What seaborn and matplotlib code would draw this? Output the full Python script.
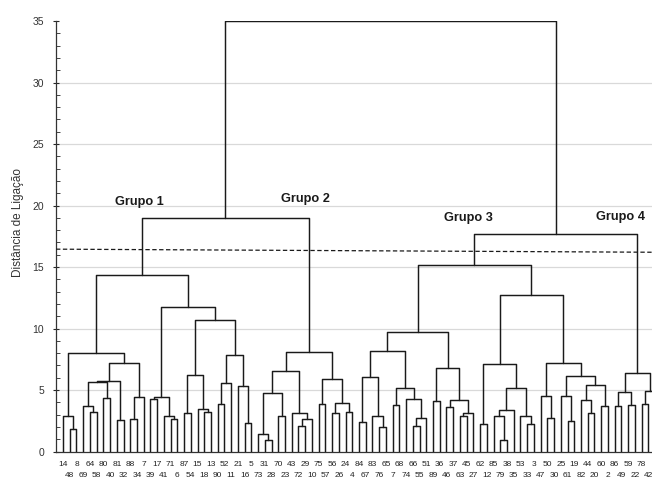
import numpy as np
import pandas as pd
import matplotlib
matplotlib.use("Agg")
import matplotlib.pyplot as plt
import matplotlib.transforms as mtransforms
import seaborn as sns

# ---------------- data ----------------
leaf_labels = ["14", "48", "8", "69", "64", "58", "80", "40", "81", "32", "88", "34", "7", "39",
               "17", "41", "71", "6", "87", "54", "15", "18", "13", "90", "52", "11", "21", "16",
               "5", "73", "31", "28", "70", "23", "43", "72", "29", "10", "75", "57", "56", "26",
               "24", "4", "84", "67", "83", "76", "65", "7", "68", "74", "66", "55", "51", "89",
               "36", "46", "37", "63", "45", "27", "62", "12", "85", "79", "38", "35", "53", "33",
               "3", "47", "50", "30", "25", "61", "19", "82", "44", "20", "60", "2", "86", "49",
               "59", "22", "78", "42", "1"]
n_leaves = len(leaf_labels)

# merges: ids < n_leaves are leaves, id n_leaves + i is the cluster made by merge i
merge_left = [1, 0, 4, 3, 6, 92, 8, 94, 10, 97, 96, 90,
              13, 16, 15, 101,
              18, 21, 20, 105, 23, 109, 27, 26, 110, 108, 104, 100,
              30, 29, 32, 118, 35, 121, 34, 120, 38, 40, 42, 126, 125, 124, 116,
              44, 47, 46, 132, 49, 52, 137, 51, 136, 135,
              55, 57, 59, 144, 143, 142, 141,
              62, 65, 64, 151, 69, 68, 152, 149,
              72, 71, 75, 74, 78, 77, 80, 162, 160, 158, 156, 148,
              82, 84, 169, 86, 172, 171, 168, 131]
merge_right = [2, 89, 5, 91, 7, 93, 9, 95, 11, 12, 98, 99,
               14, 17, 102, 103,
               19, 22, 106, 107, 24, 25, 28, 111, 112, 113, 114, 115,
               31, 117, 33, 119, 36, 37, 122, 123, 39, 41, 43, 127, 128, 129, 130,
               45, 48, 133, 134, 50, 53, 54, 138, 139, 140,
               56, 58, 60, 61, 145, 146, 147,
               63, 66, 150, 67, 70, 153, 154, 155,
               73, 157, 76, 159, 79, 161, 81, 163, 164, 165, 166, 167,
               83, 85, 170, 87, 88, 173, 174, 175]
merge_height = [1.84, 2.86, 3.21, 3.67, 4.35, 5.62, 2.59, 5.70, 2.67, 4.43, 7.17, 8.03,
                4.27, 2.67, 2.86, 4.46,
                3.13, 3.21, 3.48, 6.24, 3.90, 5.57, 2.32, 5.29, 7.86, 10.70, 11.78, 14.37,
                0.97, 1.43, 2.86, 4.75, 2.10, 2.65, 3.13, 6.55, 3.90, 3.13, 3.25, 3.92, 5.86, 8.10, 18.96,
                2.40, 2.00, 2.86, 6.05, 3.81, 2.10, 2.73, 4.27, 5.20, 8.20,
                4.08, 3.59, 2.86, 3.13, 4.21, 6.78, 9.70,
                2.24, 0.97, 2.86, 3.40, 2.24, 2.92, 5.16, 7.10,
                2.73, 4.48, 2.46, 4.54, 3.13, 4.21, 3.73, 5.43, 6.10, 7.17, 12.75, 15.13,
                3.73, 3.81, 4.81, 3.89, 4.89, 6.37, 17.67, 35.0]

group_names = ["Grupo 1", "Grupo 2", "Grupo 3", "Grupo 4"]
group_x = [11.4, 36.0, 60.2, 82.8]
group_y = [20.25, 20.55, 19.0, 19.1]
cut_height_left = 16.45
cut_height_right = 16.2

# ---------------- build segments ----------------
pos = {i: float(i) for i in range(n_leaves)}
hgt = {i: 0.0 for i in range(n_leaves)}
rows = []
for k, (a, b, h) in enumerate(zip(merge_left, merge_right, merge_height)):
    xa, xb = pos[a], pos[b]
    ya, yb = hgt[a], hgt[b]
    for j, (xx, yy) in enumerate([(xa, ya), (xa, h), (xb, h), (xb, yb)]):
        rows.append({"x": xx, "y": yy, "seg": k, "order": j})
    cid = n_leaves + k
    pos[cid] = (xa + xb) / 2.0
    hgt[cid] = h
df = pd.DataFrame(rows)

# ---------------- plot ----------------
sns.set_style("white")
plt.rcParams["font.family"] = ["Liberation Sans", "DejaVu Sans"]

fig = plt.figure(figsize=(6.52, 4.80), dpi=100)
ax = fig.add_axes([56 / 652, 1 - 451.5 / 480, 1 - 56 / 652, (451.5 - 21) / 480])

for yv in [5, 10, 15, 20, 25, 30]:
    ax.axhline(yv, color="#d9d9d9", lw=0.9, zorder=0)

sns.lineplot(data=df, x="x", y="y", units="seg", estimator=None, sort=False,
             color="#1a1a1a", lw=1.05, ax=ax, legend=False, zorder=3)

xlim = (-1.04, 87.55)
ax.plot(list(xlim), [cut_height_left, cut_height_right], color="#1a1a1a", lw=0.9,
        ls=(0, (3.5, 2.0)), zorder=4)

for name, gx, gy in zip(group_names, group_x, group_y):
    ax.text(gx, gy, name, ha="center", va="center", fontsize=9.2,
            fontweight="bold", color="#1a1a1a")

ax.set_xlim(*xlim)
ax.set_ylim(0, 35)

visible = [i for i in range(n_leaves) if i <= 87]
even = [i for i in visible if i % 2 == 0]
odd = [i for i in visible if i % 2 == 1]
ax.set_xticks(even)
ax.set_xticklabels([leaf_labels[i] for i in even], fontsize=6, color="#222222")
ax.set_xticks(odd, minor=True)
ax.set_xticklabels([leaf_labels[i] for i in odd], minor=True, fontsize=6, color="#222222")
offset = mtransforms.ScaledTranslation(-2.5 / 100, 0, fig.dpi_scale_trans)
for lab in ax.get_xticklabels() + ax.get_xticklabels(minor=True):
    lab.set_transform(lab.get_transform() + offset)
ax.tick_params(axis="x", which="major", length=0, pad=6.5, bottom=True)
ax.tick_params(axis="x", which="minor", length=0, pad=15, bottom=True)

ax.set_yticks(np.arange(0, 36, 5))
ax.set_yticks(np.arange(0, 36, 1), minor=True)
ax.tick_params(axis="y", which="major", direction="inout", length=5, width=0.8,
               labelsize=7.5, labelcolor="#333333", pad=6, left=True)
ax.tick_params(axis="y", which="minor", direction="in", length=3, width=0.6, left=True)

ax.set_xlabel("")
ax.set_ylabel("Distância de Ligação", fontsize=8.5, color="#333333")
ax.yaxis.set_label_coords(-0.053, 0.533)

for side in ["top", "right"]:
    ax.spines[side].set_visible(False)
for side in ["left", "bottom"]:
    ax.spines[side].set_color("#333333")
    ax.spines[side].set_linewidth(0.9)

fig.savefig("out.png", dpi=100)
